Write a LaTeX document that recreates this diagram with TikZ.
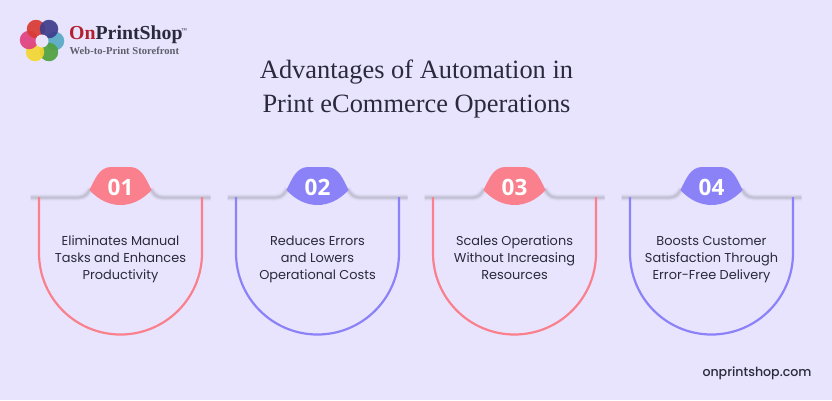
\documentclass[tikz,border=0pt]{standalone}
\usepackage{fontspec}
\setmainfont{Poppins}
\newfontfamily\sitefont{Poppins Medium}
\newfontfamily\titlefont{Liberation Serif}
\newfontfamily\numfont{Open Sans}
\usepackage{tikz}
\definecolor{pagebg}{HTML}{E8E4FE}
\definecolor{cardpink}{HTML}{F9808C}
\definecolor{cardblue}{HTML}{8B82F8}
\definecolor{inktext}{HTML}{2A2A3C}
\definecolor{logored}{HTML}{B3202E}
\definecolor{logogray}{HTML}{5F5F6B}
\tikzset{
  cardtext/.style={align=center,font=\fontsize{12.9}{17}\selectfont,text=inktext},
  cardnum/.style={font=\numfont\bfseries\fontsize{22.5}{22.5}\selectfont,text=white},
  cardline/.style={line width=2.2pt},
  ball/.style={circle,minimum size=18.5pt,inner sep=0pt,fill opacity=.92},
}
\begin{document}
\begin{tikzpicture}[x=1pt,y=-1pt]
\useasboundingbox[fill=pagebg] (0,0) rectangle (832,400);
% logo
\foreach \nm/\bx/\by/\col in {a/55/41/57A9C4,b/49/52/4FA03F,c/35/52/F4D630,d/29/40/E0417F,e/36/29/D93A33,f/49/29/3F3C8C}{
  \definecolor{ballcol}{HTML}{\col}
  \node[ball,fill=ballcol] (ball\nm) at (\bx,\by) {};
}
\node[circle,fill=pagebg,minimum size=13pt,inner sep=0pt] (hole) at (42,41) {};
\node[anchor=west,inner sep=0pt,font=\titlefont\bfseries\fontsize{19.8}{20}\selectfont] (logoname) at (69,35) {\textcolor{logored}{On}\textcolor{inktext}{PrintShop}};
\node[anchor=south west,inner sep=0pt,font=\titlefont\fontsize{6}{6}\selectfont,text=inktext] (logotm) at (181,33) {™};
\node[anchor=west,inner sep=0pt,font=\titlefont\bfseries\fontsize{10.6}{11}\selectfont,text=logogray] (logotag) at (69.5,51) {Web-to-Print Storefront};
% heading
\node[align=center,font=\titlefont\fontsize{26.4}{34}\selectfont,text=inktext] (heading) at (416.5,89) {Advantages of Automation in\\Print eCommerce Operations};
\node[font=\sitefont\fontsize{12.6}{14}\selectfont,text=inktext] (site) at (757,373) {onprintshop.com};
% cards
\foreach \i/\cx/\col/\num/\txt in {
  1/120.5/cardpink/01/{Eliminates Manual\\Tasks and Enhances\\Productivity},
  2/317.5/cardblue/02/{Reduces Errors\\and Lowers\\Operational Costs},
  3/514.5/cardpink/03/{Scales Operations\\Without Increasing\\Resources},
  4/711.5/cardblue/04/{Boosts Customer\\Satisfaction Through\\Error-Free Delivery}}{
  \begin{scope}[shift={(\cx,0)}]
  \foreach \w/\o in {7/.04,5/.06,3.5/.08,2/.12}
    \draw[black!60,line width=\w pt,opacity=\o] (-90,197.5) -- (-42,197.5) .. controls (-35,197.5) and (-33,193) .. (-30,189) (30,189) .. controls (33,193) and (35,197.5) .. (42,197.5) -- (90,197.5);
  \draw[\col,cardline] (-81.5,197) -- (-81.5,253) arc[start angle=180,end angle=0,radius=81.5] -- (81.5,197);
  \fill[\col] (-31,190) .. controls (-25,178) and (-21,167) .. (-9,167) -- (9,167) .. controls (21,167) and (25,178) .. (31,190) .. controls (22,200) and (11,205) .. (0,205) .. controls (-11,205) and (-22,200) .. (-31,190) -- cycle;
  \node[cardnum] (num\i) at (0,187) {\num};
  \node[cardtext] (card\i) at (0,259) {\strut\txt\strut};
  \end{scope}
}
\end{tikzpicture}
\end{document}
